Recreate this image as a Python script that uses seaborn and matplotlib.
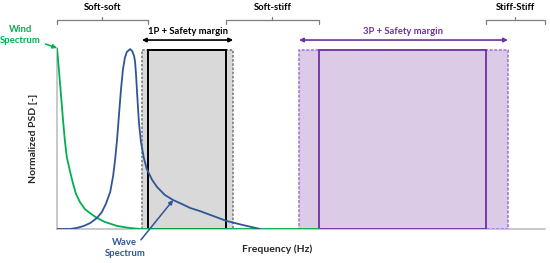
import numpy as np
import pandas as pd
import matplotlib
matplotlib.use("Agg")
import matplotlib.pyplot as plt
from matplotlib.patches import Rectangle
import seaborn as sns

sns.set_theme(style="white")
plt.rcParams["font.family"] = ["Lato", "DejaVu Sans"]

# 데이터 (주파수: 임의 단위, PSD: 정규화)
wind_freq = [0.00, 0.04, 0.08, 0.12, 0.16, 0.20, 0.27, 0.33, 0.39, 0.47, 0.57,
             0.70, 0.82, 0.98, 1.23, 1.48, 1.72, 5.37]
wind_psd = [1.00, 0.878, 0.746, 0.613, 0.492, 0.398, 0.315, 0.249, 0.193, 0.149,
            0.110, 0.083, 0.061, 0.039, 0.017, 0.006, 0.0, 0.0]

wave_freq = [0.00, 0.27, 0.41, 0.55, 0.68, 0.82, 0.92, 1.00, 1.09, 1.15, 1.19,
             1.23, 1.27, 1.31, 1.35, 1.39, 1.43, 1.50, 1.54, 1.58, 1.60, 1.62,
             1.64, 1.66, 1.68, 1.72, 1.78, 1.84, 1.95, 2.05, 2.21, 2.38, 2.56,
             2.73, 2.93, 3.20, 3.48, 3.81, 4.16]
wave_psd = [0.0, 0.0, 0.006, 0.017, 0.033, 0.061, 0.094, 0.138, 0.204, 0.293,
            0.381, 0.492, 0.630, 0.768, 0.878, 0.945, 0.978, 0.994, 0.983, 0.956,
            0.923, 0.851, 0.757, 0.669, 0.586, 0.481, 0.392, 0.331, 0.271, 0.232,
            0.188, 0.160, 0.138, 0.116, 0.099, 0.072, 0.044, 0.022, 0.0]

# 1P / 3P 대역 (내부 = 대역, 외부 = 안전여유 포함)
band_1p = (1.86, 3.46)
band_1p_margin = (1.74, 3.61)
band_3p = (5.37, 8.79)
band_3p_margin = (4.96, 9.24)
band_top = 0.99
freq_max = 10.0

# 영역 구분 라벨
regions = ["Soft-soft", "Soft-stiff", "Stiff-Stiff"]
region_edges = [(0.0, band_1p[0]), (band_1p[1], band_3p[0]), (band_3p[1], freq_max)]

green = "#00b050"
blue = "#2f5597"
purple = "#7030a0"
gray = "#7f7f7f"

fig = plt.figure(figsize=(5.5, 2.63), dpi=100)
ax = fig.add_axes([57 / 550, 34 / 263, 488 / 550, 181 / 263])

# 박스 (1P)
ax.add_patch(Rectangle((band_1p_margin[0], 0), band_1p_margin[1] - band_1p_margin[0], band_top,
                       facecolor="#d9d9d9", edgecolor="#7f7f7f", lw=1.2, ls=(0, (1.5, 1)), zorder=1))
ax.add_patch(Rectangle((band_1p[0], 0), band_1p[1] - band_1p[0], band_top,
                       facecolor="#d9d9d9", edgecolor="black", lw=1.4, zorder=2))
# 박스 (3P)
ax.add_patch(Rectangle((band_3p_margin[0], 0), band_3p_margin[1] - band_3p_margin[0], band_top,
                       facecolor="#dccbe7", edgecolor="#a070d0", lw=1.1, ls=(0, (2, 1)), zorder=1))
ax.add_patch(Rectangle((band_3p[0], 0), band_3p[1] - band_3p[0], band_top,
                       facecolor="#dccbe7", edgecolor=purple, lw=1.3, zorder=2))

sns.lineplot(x=wind_freq, y=wind_psd, color=green, lw=1.3, ax=ax, zorder=3)
sns.lineplot(x=wave_freq, y=wave_psd, color=blue, lw=1.3, ax=ax, zorder=4)

ax.set_xlim(0, freq_max)
ax.set_ylim(0, 1.0)
ax.set_xticks([])
ax.set_yticks([])
for s in ["top", "right"]:
    ax.spines[s].set_visible(False)
for s in ["left", "bottom"]:
    ax.spines[s].set_color("#bfbfbf")
    ax.spines[s].set_linewidth(1.2)
    ax.spines[s].set_zorder(0)

ax.set_xlabel("Frequency (Hz)", fontsize=7.5, fontweight="bold")
ax.xaxis.set_label_coords(0.452, -0.085)
ax.set_ylabel("Normalized PSD [-]", fontsize=7.5, fontweight="bold", labelpad=14)

# 안전여유 화살표
ax.annotate("", xy=(band_1p_margin[0], 1.044), xytext=(band_1p_margin[1], 1.044),
            arrowprops=dict(arrowstyle="<|-|>", color="black", lw=1.2, mutation_scale=6,
                            shrinkA=0, shrinkB=0), annotation_clip=False)
ax.text(np.mean(band_1p_margin), 1.09, "1P + Safety margin", ha="center", va="center",
        fontsize=6.8, fontweight="bold", color="black", clip_on=False)
ax.annotate("", xy=(band_3p_margin[0], 1.044), xytext=(band_3p_margin[1], 1.044),
            arrowprops=dict(arrowstyle="<|-|>", color=purple, lw=1.2, mutation_scale=6,
                            shrinkA=0, shrinkB=0), annotation_clip=False)
ax.text(np.mean(band_3p_margin), 1.09, "3P + Safety margin", ha="center", va="center",
        fontsize=6.8, fontweight="bold", color=purple, clip_on=False)

# 상단 중괄호
for label, (x0, x1) in zip(regions, region_edges):
    xm = (x0 + x1) / 2
    ax.plot([x0, x0, x1, x1], [1.133, 1.155, 1.155, 1.133], color=gray, lw=0.9, clip_on=False)
    ax.plot([xm, xm], [1.155, 1.172], color=gray, lw=0.9, clip_on=False)
    ax.text(xm, 1.225, label, ha="center", va="center", fontsize=6.8, fontweight="bold",
            color="black", clip_on=False)

# 스펙트럼 라벨
ax.annotate("Wind\nSpectrum", xy=(0.0, 1.0), xytext=(-0.75, 1.07), ha="center", va="center",
            fontsize=6.8, fontweight="bold", color=green, linespacing=1.25,
            arrowprops=dict(arrowstyle="-|>", color=green, lw=1.1, mutation_scale=6,
                            shrinkA=1, shrinkB=0), annotation_clip=False)
ax.annotate("", xy=(2.38, 0.16), xytext=(1.72, -0.06),
            arrowprops=dict(arrowstyle="-|>", color=blue, lw=1.1, mutation_scale=6,
                            shrinkA=0, shrinkB=0), annotation_clip=False)
ax.text(1.39, -0.105, "Wave\nSpectrum", ha="center", va="center", fontsize=6.8,
        fontweight="bold", color=blue, linespacing=1.25, clip_on=False)

fig.savefig("out.png", dpi=100)
plt.close(fig)
